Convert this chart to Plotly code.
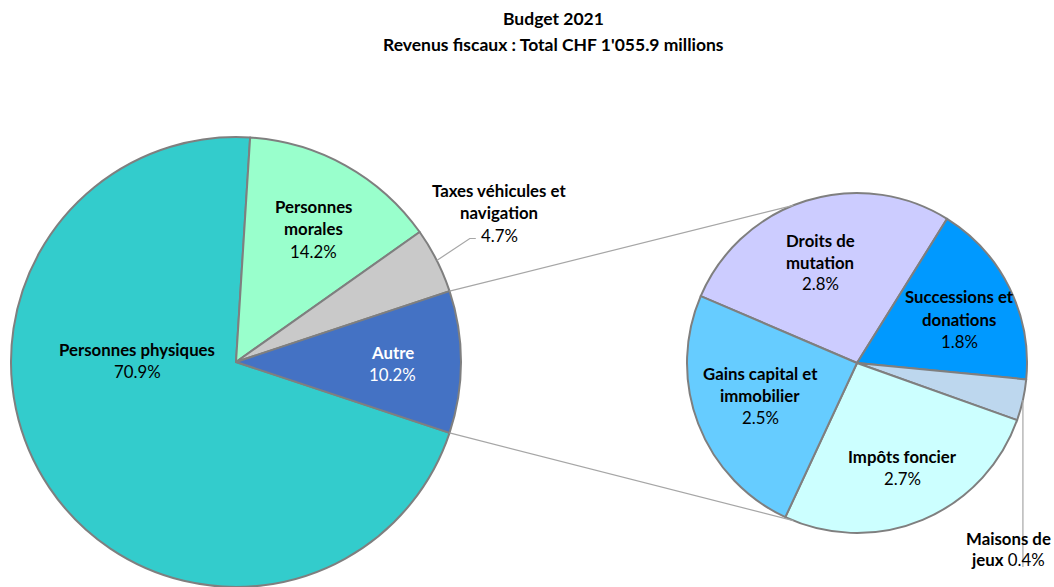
import math
import plotly.graph_objects as go

# ---------------- data ----------------
main_labels = ["Personnes physiques", "Personnes morales",
               "Taxes véhicules et navigation", "Autre"]
sub_labels = ["Droits de mutation", "Successions et donations", "Maisons de jeux",
              "Impôts foncier", "Gains capital et immobilier"]
sub_values = [2.8, 1.8, 0.4, 2.7, 2.5]
main_values = [70.9, 14.2, 4.7, round(sum(sub_values), 1)]

main_colors = ["#33CCCC", "#99FFCC", "#C9C9C9", "#4472C4"]
sub_colors = ["#CCCCFF", "#0099FF", "#BDD7EE", "#CCFFFF", "#66CCFF"]

title_lines = ["Budget 2021", "Revenus fiscaux : Total CHF 1'055.9 millions"]

# ---------------- layout geometry (pixels) ----------------
W, H = 1054, 587
MC = (236, 362); MR = 225          # main pie centre / radius
SC = (857, 363); SR = 170          # secondary pie centre / radius
SUB_START = 32                     # angle where 2nd slice of sub pie starts
CONN_ANGLE = 22                    # connector attach angle on sub pie
FONT = "Lato"
LBL = 16.8
EDGE = "#7F7F7F"

def px(x):
    return x / W

def py(y):
    return 1 - y / H

def on_circle(c, r, ang):
    a = math.radians(ang)
    return (c[0] + r * math.sin(a), c[1] - r * math.cos(a))

main_total = sum(main_values)
autre_deg = 360 * main_values[-1] / main_total
main_rotation = 90 + autre_deg / 2
sub_total = sum(sub_values)
sub_rotation = SUB_START - 360 * sub_values[0] / sub_total

fig = go.Figure()
fig.add_trace(go.Pie(
    labels=main_labels, values=main_values, sort=False, direction="clockwise",
    rotation=main_rotation, textinfo="none", showlegend=False,
    marker=dict(colors=main_colors, line=dict(color=EDGE, width=2)),
    domain=dict(x=[px(MC[0] - MR), px(MC[0] + MR)], y=[max(0, py(MC[1] + MR)), py(MC[1] - MR)]),
))
fig.add_trace(go.Pie(
    labels=sub_labels, values=sub_values, sort=False, direction="clockwise",
    rotation=sub_rotation, textinfo="none", showlegend=False,
    marker=dict(colors=sub_colors, line=dict(color=EDGE, width=2)),
    domain=dict(x=[px(SC[0] - SR), px(SC[0] + SR)], y=[py(SC[1] + SR), py(SC[1] - SR)]),
))

shapes = []
# connector lines between "Autre" and the secondary pie
p1 = on_circle(MC, MR, 90 - autre_deg / 2)
p2 = on_circle(MC, MR, 90 + autre_deg / 2)
q1 = on_circle(SC, SR, -CONN_ANGLE)
q2 = on_circle(SC, SR, 180 + CONN_ANGLE)
for a, b in [(p1, q1), (p2, q2)]:
    shapes.append(dict(type="line", xref="paper", yref="paper",
                       x0=px(a[0]), y0=py(a[1]), x1=px(b[0]), y1=py(b[1]),
                       line=dict(color="#A6A6A6", width=1.2)))

# leader line for "Taxes véhicules"
cum = sum(main_values[:2]) + main_values[2] / 2
t_ang = main_rotation + 360 * cum / main_total
t0 = on_circle(MC, MR, t_ang)
t1 = (t0[0] + 33, t0[1] - 22)
t2 = (t1[0] + 6, t1[1])
shapes.append(dict(type="path", xref="paper", yref="paper",
                   path=f"M {px(t0[0])},{py(t0[1])} L {px(t1[0])},{py(t1[1])} L {px(t2[0])},{py(t2[1])}",
                   line=dict(color="#A6A6A6", width=1.2)))
# leader line for "Maisons de jeux"
cum = sum(sub_values[:2]) + sub_values[2] / 2
m_ang = sub_rotation + 360 * cum / sub_total
m0 = on_circle(SC, SR, m_ang)
shapes.append(dict(type="line", xref="paper", yref="paper",
                   x0=px(m0[0]), y0=py(m0[1]), x1=px(m0[0]), y1=py(567),
                   line=dict(color="#A6A6A6", width=1.2)))

annotations = []

def add_text(x, y, text, size=LBL, color="#000000"):
    annotations.append(dict(x=px(x), y=py(y), xref="paper", yref="paper",
                            text=text, showarrow=False, xanchor="center", yanchor="middle",
                            font=dict(family=FONT, size=size, color=color)))

# title
add_text(553, 18, f"<b>{title_lines[0]}</b>", size=17.5)
add_text(553, 44, f"<b>{title_lines[1]}</b>", size=17.5)

def pct(v):
    return f"{v:.1f}%"

label_spec = [
    # (name lines, value, x, y, colour)
    (["Personnes physiques"], main_values[0], 137, 349, "#000000"),
    (["Personnes", "morales"], main_values[1], 313, 207, "#000000"),
    (["Taxes véhicules et", "navigation"], main_values[2], 499, 191, "#000000"),
    (["Autre"], main_values[3], 392, 352, "#FFFFFF"),
    (["Droits de", "mutation"], sub_values[0], 820, 240, "#000000"),
    (["Successions et", "donations"], sub_values[1], 959, 297, "#000000"),
    (["Impôts foncier"], sub_values[3], 902, 456, "#000000"),
    (["Gains capital et", "immobilier"], sub_values[4], 760, 373, "#000000"),
]
STEP = 22
for lines, val, x, y, col in label_spec:
    for i, ln in enumerate(lines):
        add_text(x, y + i * STEP, f"<b>{ln}</b>", color=col)
    add_text(x, y + len(lines) * STEP, pct(val), color=col)

# Maisons de jeux (outside label)
add_text(1008, 538, "<b>Maisons de</b>")
add_text(1008, 559, f"<b>jeux</b> {pct(sub_values[2])}")

fig.update_layout(
    width=W, height=H, autosize=False,
    margin=dict(l=0, r=0, t=0, b=0),
    paper_bgcolor="#FFFFFF", plot_bgcolor="#FFFFFF",
    shapes=shapes, annotations=annotations,
    font=dict(family=FONT),
)
fig.write_html("out.html", config={"displayModeBar": False},
               post_script="document.body.style.margin='0';document.body.style.overflow='hidden';")
